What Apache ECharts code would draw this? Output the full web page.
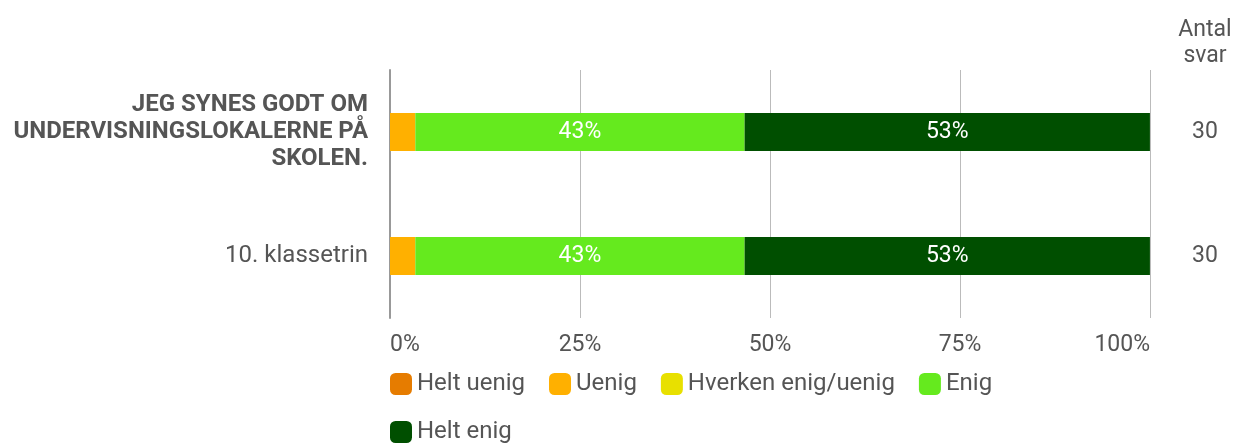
<!DOCTYPE html>
<html>
<head>
<meta charset="utf-8">
<script src="https://cdn.jsdelivr.net/npm/echarts@6/dist/echarts.min.js"></script>
<style>
  html, body { margin: 0; padding: 0; background: #fff; }
  #chart { width: 1237px; height: 444px; }
</style>
</head>
<body>
<div id="chart"></div>
<script>
// data
var categories = ['JEG SYNES GODT OM\nUNDERVISNINGSLOKALERNE PÅ\nSKOLEN.', '10. klassetrin']
var counts = [30, 30]
var seriesNames = ['Helt uenig', 'Uenig', 'Hverken enig/uenig', 'Enig', 'Helt enig']
var heltUenig = [0, 0]
var uenig = [3.33, 3.33]
var hverken = [0, 0]
var enig = [43.33, 43.33]
var heltEnig = [53.33, 53.33]
var xTicks = [0, 25, 50, 75, 100]

var colors = ['#e67c00', '#ffb000', '#e8e000', '#65ea1e', '#004f00']
var values = [heltUenig, uenig, hverken, enig, heltEnig]

var myChart = echarts.init(document.getElementById('chart'))

var series = seriesNames.map(function (name, i) {
  return {
    name: name,
    type: 'bar',
    stack: 'total',
    barWidth: 38,
    data: values[i],
    itemStyle: { color: colors[i] },
    label: {
      show: true,
      color: '#fff',
      fontSize: 23,
      fontFamily: 'Roboto',
      // uenig (3%) has no label in the original
      formatter: function (p) {
        return p.value >= 5 ? Math.round(p.value) + '%' : ''
      }
    }
  }
})

myChart.setOption({
  animation: false,
  textStyle: { fontFamily: 'Roboto' },
  title: {
    text: 'Antal\nsvar',
    left: 1200,
    top: 12,
    textAlign: 'center',
    textStyle: { fontFamily: 'Roboto', fontWeight: 'normal', fontSize: 23, color: '#555', lineHeight: 26 }
  },
  grid: { left: 390, right: 87, top: 70, bottom: 126 },
  legend: {
    left: 390,
    top: 372,
    width: 700,
    padding: 0,
    itemWidth: 22,
    itemHeight: 22,
    itemGap: 24,
    icon: 'roundRect',
    data: seriesNames,
    textStyle: { fontSize: 24, color: '#555', fontFamily: 'Roboto' }
  },
  xAxis: {
    type: 'value',
    min: xTicks[0],
    max: xTicks[xTicks.length - 1],
    interval: 25,
    axisLine: { show: false },
    axisTick: { show: false },
    splitLine: { lineStyle: { color: '#bbb', width: 1 } },
    axisLabel: {
      formatter: '{value}%',
      fontSize: 23,
      color: '#555',
      margin: 16,
      alignMinLabel: 'left',
      alignMaxLabel: 'right'
    }
  },
  yAxis: [
    {
      type: 'category',
      data: categories,
      inverse: true,
      axisLine: { show: true, lineStyle: { color: '#999', width: 2 } },
      axisTick: { show: false },
      axisLabel: {
        margin: 22,
        fontSize: 24,
        color: '#555',
        formatter: function (v, i) {
          return i === 0 ? '{b|' + v.split('\n').join('}\n{b|') + '}' : v
        },
        rich: {
          b: { fontWeight: 'bold', fontSize: 24, color: '#555', lineHeight: 27, align: 'right' }
        }
      }
    },
    {
      type: 'category',
      data: counts,
      inverse: true,
      position: 'right',
      axisLine: { show: false },
      axisTick: { show: false },
      axisLabel: { margin: 42, fontSize: 23, color: '#555' }
    }
  ],
  series: series
})
</script>
</body>
</html>
